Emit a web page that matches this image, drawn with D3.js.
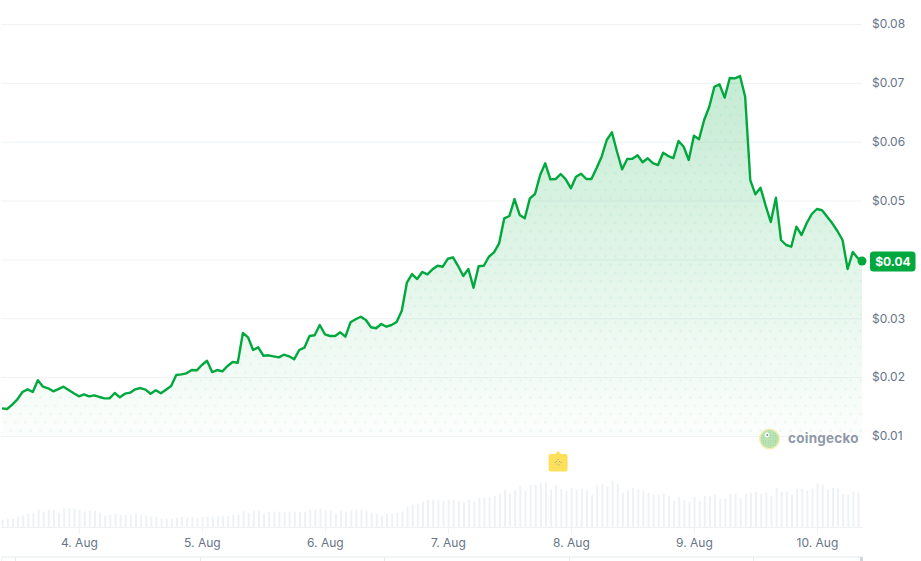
<!DOCTYPE html>
<html lang="en">
<head>
    <meta charset="UTF-8">
    <title>Token price chart</title>
    <script src="https://cdnjs.cloudflare.com/ajax/libs/d3/7.8.5/d3.min.js"></script>
    <style>
        body { margin: 0; background: #ffffff; font-family: Inter, "Noto Sans", sans-serif; }
        svg { display: block; }
        .tick text { fill: #677489; font-size: 12px; font-family: Inter, "Noto Sans", sans-serif; }
        .tick line { stroke: #eff2f5; }
        .domain { display: none; }
    </style>
</head>
<body>
    <div id="chart"></div>
    <script>
        // hourly closes
        const prices = [
            .01470,.01459,.01532,.01623,.01748,.01793,.01748,.01946,.01838,.01810,
            .01759,.01798,.01838,.01782,.01725,.01674,.01708,.01674,.01691,.01663,
            .01640,.01640,.01731,.01657,.01719,.01736,.01793,.01815,.01787,.01719,
            .01776,.01725,.01787,.01849,.02036,.02048,.02065,.02121,.02116,.02206,
            .02279,.02087,.02121,.02099,.02189,.02257,.02245,.02750,.02677,.02461,
            .02507,.02364,.02371,.02354,.02337,.02381,.02354,.02303,.02461,
            .02500,.02699,.02711,.02886,.02728,.02699,.02699,.02762,.02687,.02932,
            .02983,.03027,.02971,.02847,.02830,.02903,.02857,.02886,.02937,.03129,
            .03605,.03752,.03667,.03786,.03747,.03832,.03893,.03876,.04012,.04036,
            .03888,.03718,.03837,.03520,.03883,.03893,.04046,.04121,.04274,.04699,
            .04738,.05026,.04755,.04699,.05038,.05111,.05434,.05633,.05361,.05366,
            .05451,.05361,.05208,.05405,.05456,.05366,.05366,.05548,.05745,.06029,
            .06160,.05830,.05531,.05706,.05711,.05769,.05650,.05718,.05638,.05604,
            .05813,.05757,.05723,.06012,.05915,.05689,.06102,.06041,.06369,.06595,
            .06934,.06975,.06748,.07082,.07077,.07116,.06765,.05349,.05106,.05218,
            .04913,.04636,.05049,.04330,.04245,.04216,.04556,.04415,.04614,.04772,
            .04857,.04835,.04726,.04614,.04483,.04330,.03837,.04126,.04019,.03973
        ];

        // hourly volume, $M
        const volumes = [
            7.3,8,8.3,10.3,11.3,13.3,14.3,17.3,15.3,17.3,17.3,14.3,19,18.7,18.3,17.3,15.3,16.3,16.3,14.3,
            11.3,12.3,13.3,12.3,12.3,12.3,13.3,12.3,11.3,10.3,10.3,8.3,8.3,8.3,9.3,10.3,9.3,10.3,9.3,10,
            10.3,10.3,11.3,11.3,11.3,12.3,12.3,16.3,14.3,16.3,16.3,13.3,15.3,15.3,15.3,15.3,15.3,15.3,15.3,15.3,
            17.3,17.3,18.3,17.3,16.3,13.3,16.3,15.3,16.3,17.3,17.3,16.3,14.3,13.3,11.3,13.3,13.3,14.3,15.3,20.3,
            22.3,23.3,25.3,27.3,27.3,27.3,26.3,27.3,27.3,26.3,
            25.3,27.3,25.3,29.3,29.3,30.3,31.3,33.3,37.3,33.3,37.3,41.3,36.3,42.3,42.3,44.3,44.3,37.3,42.3,38.3,
            36.3,39.3,37.3,38.3,36.3,32.3,42.3,43.3,40.3,46.3,43.3,34.3,36.3,39.3,38.3,36.3,34.3,32.3,32.3,33.3,
            31.3,26.3,30.3,27.3,25.3,30.3,26.3,31.3,30.3,32.3,28.3,28.3,33.3,33.3,29.3,33.3,34.3,35.3,33.3,34.3,
            31.3,39.3,35.3,35.3,32.3,38.3,38.3,36.3,38.3,43.3,42.3,37.3,39.3,38.3,33.3,32.3,35.3,34.3
        ];

        const priceTicks = [0.01, 0.02, 0.03, 0.04, 0.05, 0.06, 0.07, 0.08];
        const dayTicks = [4, 5, 6, 7, 8, 9, 10].map(d => new Date(Date.UTC(2024, 7, d)));
        const navTicks = ["2024-08-03T12:00Z", "2024-08-05T00:00Z", "2024-08-06T12:00Z", "2024-08-08T00:00Z", "2024-08-09T12:00Z"].map(s => new Date(s));
        const firstHour = Date.UTC(2024, 7, 3, 9);
        const lastTime = new Date(Date.UTC(2024, 7, 10, 8, 48));
        const markerTime = new Date(Date.UTC(2024, 7, 7, 21, 30));
        const hour = 3600000;

        const times = prices.map((p, i) => i === prices.length - 1 ? lastTime : new Date(firstHour + i * hour));

        const width = 921, height = 561;
        const GREEN = "#00a83e";

        const x = d3.scaleUtc().domain([times[0], lastTime]).range([2, 862]);
        const y = d3.scaleLinear().domain([0.01, 0.08]).range([436, 24]);
        const yVol = d3.scaleLinear().domain([0, 60]).range([527, 467]);
        const xNav = d3.scaleUtc().domain(x.domain()).range([0, 860]);

        const svg = d3.select("#chart").append("svg")
            .attr("width", width).attr("height", height)
            .attr("viewBox", [0, 0, width, height]);

        const defs = svg.append("defs");
        const grad = defs.append("linearGradient").attr("id", "fade")
            .attr("gradientUnits", "userSpaceOnUse")
            .attr("x1", 0).attr("x2", 0).attr("y1", y(0.0712)).attr("y2", y(0.01));
        grad.append("stop").attr("offset", 0).attr("stop-color", GREEN).attr("stop-opacity", 0.23);
        grad.append("stop").attr("offset", 1).attr("stop-color", GREEN).attr("stop-opacity", 0.012);

        const dots = defs.append("pattern").attr("id", "dots")
            .attr("patternUnits", "userSpaceOnUse")
            .attr("width", 10).attr("height", 16.6)
            .attr("x", 3).attr("y", 3.4);
        dots.append("circle").attr("cx", 2.5).attr("cy", 4).attr("r", 1.2).attr("fill", GREEN).attr("fill-opacity", 0.07);
        dots.append("circle").attr("cx", 7.5).attr("cy", 12.3).attr("r", 1.2).attr("fill", GREEN).attr("fill-opacity", 0.07);

        // logo texture
        const logoDots = defs.append("pattern").attr("id", "logoDots")
            .attr("patternUnits", "userSpaceOnUse").attr("width", 2.4).attr("height", 2.4);
        logoDots.append("rect").attr("width", 2.4).attr("height", 2.4).attr("fill", "#b9e3b4");
        logoDots.append("circle").attr("cx", 1.2).attr("cy", 1.2).attr("r", 0.45).attr("fill", "#8fce93");

        // price axis + gridlines, the $0.04 label is carried by the badge
        svg.append("g")
            .attr("transform", "translate(862,0)")
            .call(d3.axisRight(y).tickValues(priceTicks).tickSize(-861).tickPadding(10).tickFormat(d3.format("$.2f")))
            .call(g => g.selectAll("text").attr("dy", "0.32em"))
            .call(g => g.selectAll(".tick").filter(d => d === 0.04).select("text").remove());

        const area = d3.area()
            .x((d, i) => x(times[i]))
            .y0(y(0.01))
            .y1(d => y(d));

        svg.append("path").datum(prices).attr("d", area).attr("fill", "url(#fade)");
        svg.append("path").datum(prices).attr("d", area).attr("fill", "url(#dots)");

        svg.append("path").datum(prices)
            .attr("d", d3.line().x((d, i) => x(times[i])).y(d => y(d)))
            .attr("fill", "none")
            .attr("stroke", GREEN)
            .attr("stroke-width", 2.4)
            .attr("stroke-linejoin", "round");

        // volume bars
        svg.append("g").selectAll("rect").data(volumes).join("rect")
            .attr("x", (d, i) => x(times[i]) - 0.3)
            .attr("width", 2)
            .attr("y", d => yVol(d))
            .attr("height", d => yVol(0) - yVol(d))
            .attr("fill", "#eff2f5");

        svg.append("g")
            .attr("transform", `translate(0,${yVol(0)})`)
            .call(d3.axisBottom(x).tickValues(dayTicks).tickSize(7).tickPadding(4).tickFormat(d3.utcFormat("%-d. %b")))
            .call(g => g.selectAll("text").attr("dy", "0.71em"));

        svg.append("line")
            .attr("x1", 1).attr("x2", 863).attr("y1", yVol(0) + 0.5).attr("y2", yVol(0) + 0.5)
            .attr("stroke", "#eff2f5");

        // navigator strip at the bottom edge
        svg.append("rect").attr("x", 2).attr("y", 556).attr("width", 860).attr("height", 2).attr("fill", "#f1f5f5");
        svg.append("g").selectAll("line").data(navTicks).join("line")
            .attr("x1", d => Math.round(xNav(d)) + 0.5).attr("x2", d => Math.round(xNav(d)) + 0.5)
            .attr("y1", 557).attr("y2", height)
            .attr("stroke", "#e6e9ed");
        svg.append("line").attr("x1", 1.5).attr("x2", 1.5).attr("y1", 557).attr("y2", height).attr("stroke", "#eff2f5");
        svg.append("rect").attr("x", 860).attr("y", 557).attr("width", 3).attr("height", 4).attr("fill", "#cfd6dc");

        // last price
        const last = prices[prices.length - 1];
        svg.append("circle").attr("cx", x(lastTime)).attr("cy", y(last)).attr("r", 4.5).attr("fill", GREEN);
        svg.append("rect").attr("x", 870).attr("y", y(last) - 9.5).attr("width", 45.5).attr("height", 20).attr("rx", 3.5).attr("fill", GREEN);
        svg.append("text").attr("x", 893).attr("y", y(last) + 0.5).attr("dy", "0.35em")
            .attr("text-anchor", "middle").attr("fill", "#ffffff")
            .attr("font-size", 12).attr("font-weight", 700)
            .text(d3.format("$.2f")(last));

        // event marker
        const mx = x(markerTime);
        const marker = svg.append("g").attr("transform", `translate(${mx},462.5)`);
        marker.append("path")
            .attr("d", "M-9.5,-6.5 Q-9.5,-8.5 -7.5,-8.5 L-3,-8.5 L0,-11.5 L3,-8.5 L7.5,-8.5 Q9.5,-8.5 9.5,-6.5 L9.5,7 Q9.5,9 7.5,9 L-7.5,9 Q-9.5,9 -9.5,7 Z")
            .attr("fill", "#ffe05a");
        [[0, -3], [-1.5, -1], [1.5, -1], [-3, 0], [3, 0], [-1, 1.5], [1, 2.5]].forEach(p => {
            marker.append("circle").attr("cx", p[0]).attr("cy", p[1]).attr("r", 0.6).attr("fill", "#8c96a6");
        });

        // watermark
        const logo = svg.append("g").attr("transform", "translate(769.5,439)");
        logo.append("circle").attr("r", 10.5).attr("fill", "#f3ecb0");
        logo.append("circle").attr("r", 9).attr("fill", "url(#logoDots)");
        logo.append("circle").attr("cx", -2.5).attr("cy", -4).attr("r", 2.4).attr("fill", "#ffffff");
        logo.append("circle").attr("cx", -2.2).attr("cy", -4).attr("r", 1).attr("fill", "#7b8794");
        svg.append("text").attr("x", 788).attr("y", 443)
            .attr("font-size", 13.5).attr("font-weight", 700).attr("fill", "#8f99a8")
            .attr("letter-spacing", 0.25)
            .text("coingecko");
    </script>
</body>
</html>
